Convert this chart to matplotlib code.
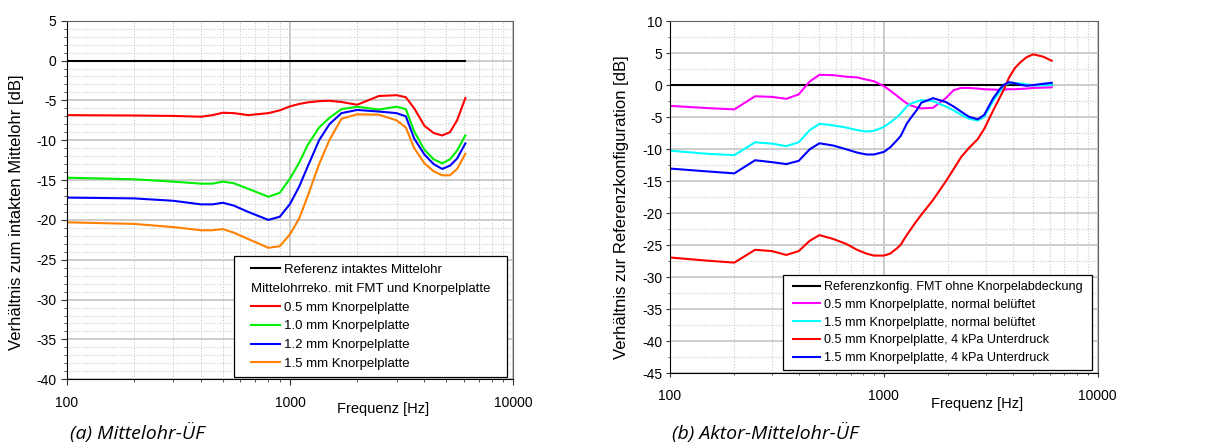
import matplotlib
matplotlib.use("Agg")
import matplotlib.pyplot as plt
from matplotlib.lines import Line2D
from matplotlib.offsetbox import DrawingArea
from matplotlib.ticker import MultipleLocator, LogLocator, NullFormatter

plt.rcParams["font.family"] = ["Liberation Sans", "DejaVu Sans"]
plt.rcParams["axes.unicode_minus"] = False

# === (a) Mittelohr-UEF data ===
freq_a = [100, 200, 300, 400, 450, 500, 560, 650, 800, 900, 1000, 1100, 1200, 1350,
          1500, 1700, 2000, 2500, 3000, 3300, 3600, 4000, 4400, 4800, 5200, 5600, 6100]
ref_a = [0.0] * len(freq_a)
k05_a = [-6.85, -6.9, -6.95, -7.05, -6.85, -6.55, -6.6, -6.85, -6.6, -6.25, -5.75, -5.45, -5.25, -5.1,
         -5.05, -5.2, -5.55, -4.45, -4.35, -4.6, -6.0, -8.2, -9.1, -9.4, -9.0, -7.5, -4.7]
k10_a = [-14.7, -14.9, -15.2, -15.45, -15.45, -15.2, -15.4, -16.1, -17.1, -16.6, -14.8, -12.8, -10.6, -8.4,
         -7.2, -6.1, -5.8, -6.15, -5.8, -6.1, -8.9, -11.2, -12.4, -12.9, -12.4, -11.3, -9.4]
k12_a = [-17.2, -17.3, -17.6, -18.05, -18.05, -17.85, -18.2, -19.0, -20.0, -19.6, -18.0, -15.8, -13.3, -10.0,
         -8.0, -6.6, -6.2, -6.4, -6.6, -7.0, -9.8, -11.8, -13.0, -13.6, -13.2, -12.3, -10.4]
k15_a = [-20.3, -20.5, -20.9, -21.3, -21.3, -21.15, -21.6, -22.4, -23.5, -23.3, -21.8, -19.8, -17.0, -13.0,
         -10.0, -7.3, -6.75, -6.8, -7.5, -8.4, -11.0, -12.9, -13.9, -14.4, -14.4, -13.6, -11.7]

# === (b) Aktor-Mittelohr-UEF data ===
freq_b = [100, 150, 200, 250, 300, 350, 400, 450, 500, 580, 670, 750, 830, 900, 1000, 1070, 1150,
          1200, 1280, 1330, 1430, 1500, 1700, 1950, 2120, 2300, 2500, 2750, 2950, 3250, 3500, 3650,
          3850, 4100, 4350, 4650, 5000, 5550, 6100]
ref_b = [0.0] * len(freq_b)
k05_norm = [-3.2, -3.55, -3.75, -1.7, -1.8, -2.1, -1.4, 0.6, 1.65, 1.6, 1.35, 1.25, 0.9, 0.65, -0.1, -0.8, -1.6,
            -2.1, -2.8, -3.1, -3.45, -3.6, -3.5, -2.0, -0.75, -0.4, -0.4, -0.5, -0.6, -0.65, -0.7, -0.65,
            -0.6, -0.6, -0.55, -0.5, -0.4, -0.35, -0.3]
k15_norm = [-10.2, -10.7, -10.9, -8.9, -9.1, -9.5, -8.9, -7.0, -6.0, -6.25, -6.6, -7.0, -7.2, -7.1, -6.5, -5.8, -5.0,
            -4.4, -3.3, -2.9, -2.5, -2.3, -2.45, -3.3, -3.9, -4.6, -5.2, -5.5, -4.9, -2.4, -0.9, -0.1,
            0.35, 0.35, 0.3, 0.15, 0.0, 0.0, 0.05]
k05_unter = [-26.9, -27.4, -27.7, -25.7, -25.9, -26.5, -25.9, -24.3, -23.4, -24.0, -24.8, -25.7, -26.3, -26.6, -26.6,
             -26.3, -25.5, -24.9, -23.4, -22.6, -21.1, -20.2, -17.9, -15.0, -13.1, -11.2, -9.8, -8.4, -6.8,
             -3.9, -1.8, -0.6, 1.2, 2.7, 3.6, 4.4, 4.85, 4.5, 3.85]
k15_unter = [-13.0, -13.45, -13.75, -11.7, -12.0, -12.3, -11.8, -10.0, -9.05, -9.4, -10.0, -10.5, -10.8, -10.8, -10.4,
             -9.7, -8.6, -7.9, -6.0, -5.2, -3.8, -2.7, -2.0, -2.6, -3.3, -4.1, -4.9, -5.3, -4.6, -2.0, -0.5,
             0.1, 0.5, 0.35, 0.1, -0.05, 0.05, 0.25, 0.4]

labels_a = ["Referenz intaktes Mittelohr", "Mittelohrreko. mit FMT und Knorpelplatte",
            "0.5 mm Knorpelplatte", "1.0 mm Knorpelplatte", "1.2 mm Knorpelplatte", "1.5 mm Knorpelplatte"]
labels_b = ["Referenzkonfig. FMT ohne Knorpelabdeckung", "0.5 mm Knorpelplatte, normal belüftet",
            "1.5 mm Knorpelplatte, normal belüftet", "0.5 mm Knorpelplatte, 4 kPa Unterdruck",
            "1.5 mm Knorpelplatte, 4 kPa Unterdruck"]

LW = 1.5
fig = plt.figure(figsize=(12.17, 4.46), dpi=100)
ax1 = fig.add_axes([0.0548, 0.1496, 0.367, 0.804])
ax2 = fig.add_axes([0.5505, 0.1630, 0.3514, 0.789])


def style_axes(ax, ymin, ymax, minor_step, ticklen, pad):
    ax.set_xscale("log")
    ax.set_xlim(100, 10000)
    ax.set_ylim(ymin, ymax)
    ax.set_xticks([100, 1000, 10000])
    ax.set_xticklabels(["100", "1000", "10000"])
    ax.xaxis.set_minor_locator(LogLocator(base=10, subs=range(2, 10)))
    ax.xaxis.set_minor_formatter(NullFormatter())
    ax.yaxis.set_major_locator(MultipleLocator(5))
    ax.yaxis.set_minor_locator(MultipleLocator(minor_step))
    ax.grid(which="major", color="#cccccc", lw=1.4, ls="-")
    ax.grid(which="minor", color="#cccccc", lw=0.8, ls=(0, (1, 1.5)))
    ax.set_axisbelow(True)
    ax.tick_params(which="major", length=ticklen, width=0.8, labelsize=10, color="#333333")
    ax.tick_params(axis="y", which="major", pad=pad)
    ax.tick_params(axis="x", which="major", pad=8)
    ax.tick_params(which="minor", length=ticklen * 0.6, width=0.6, color="#333333")
    for side in ["top", "right"]:
        ax.spines[side].set_color("#606060")
    for side in ["left", "bottom"]:
        ax.spines[side].set_color("black")


def pad_legend(leg, extra):
    # add horizontal space on both sides of the legend content
    box = leg._legend_handle_box
    kids = box.get_children()
    kids.insert(0, DrawingArea(extra, 0))
    kids.append(DrawingArea(extra, 0))


# === Plot (a) ===
ax1.plot(freq_a, ref_a, color="black", lw=LW)
ax1.plot(freq_a, k05_a, color="#ff0000", lw=LW)
ax1.plot(freq_a, k10_a, color="#00ee00", lw=LW)
ax1.plot(freq_a, k12_a, color="#0000ff", lw=LW)
ax1.plot(freq_a, k15_a, color="#ff8000", lw=LW)
style_axes(ax1, -40, 5, 1, 4, 3.5)
ax1.set_xlabel("Frequenz [Hz]", fontsize=10.5)
ax1.xaxis.set_label_coords(0.708, -0.062)
ax1.set_ylabel("Verhältnis zum intakten Mittelohr [dB]", fontsize=12)
ax1.yaxis.set_label_coords(-0.096, 0.466)

handles_a = [Line2D([], [], color="black", lw=LW), Line2D([], [], color="none", lw=LW),
             Line2D([], [], color="#ff0000", lw=LW), Line2D([], [], color="#00ee00", lw=LW),
             Line2D([], [], color="#0000ff", lw=LW), Line2D([], [], color="#ff8000", lw=LW)]
leg1 = ax1.legend(handles_a, labels_a, loc="lower right", bbox_to_anchor=(0.9866, 0.0056),
                  borderaxespad=0, fontsize=9.5, handlelength=2.2, handletextpad=0.3,
                  labelspacing=0.5, borderpad=0.55, columnspacing=0, fancybox=False,
                  framealpha=1, edgecolor="black")
leg1.get_frame().set_linewidth(0.9)
# text-only row: shift its label to the handle position
row = leg1._legend_handle_box.get_children()[0].get_children()[1]
row.get_children()[0].width = -0.3 * 9.5
pad_legend(leg1, 7)

# === Plot (b) ===
ax2.plot(freq_b, ref_b, color="black", lw=LW)
ax2.plot(freq_b, k05_norm, color="#ff00ff", lw=LW)
ax2.plot(freq_b, k15_norm, color="#00ffff", lw=LW)
ax2.plot(freq_b, k05_unter, color="#ff0000", lw=LW)
ax2.plot(freq_b, k15_unter, color="#0000ff", lw=LW)
style_axes(ax2, -45, 10, 2.5, 3, 2.5)
ax2.set_xlabel("Frequenz [Hz]", fontsize=10.5)
ax2.xaxis.set_label_coords(0.718, -0.068)
ax2.set_ylabel("Verhältnis zur Referenzkonfiguration [dB]", fontsize=12)
ax2.yaxis.set_label_coords(-0.096, 0.472)

leg2 = ax2.legend(labels_b, loc="lower right", bbox_to_anchor=(0.987, 0.0094),
                  borderaxespad=0, fontsize=9.1, handlelength=2.2, handletextpad=0.25,
                  labelspacing=0.46, borderpad=0.45, columnspacing=0, fancybox=False,
                  framealpha=1, edgecolor="black")
leg2.get_frame().set_linewidth(0.9)
pad_legend(leg2, 3)

# === Captions ===
fig.text(0.0575, 0.029, "(a) Mittelohr-ÜF", fontsize=14, style="italic",
         family=["Open Sans", "DejaVu Sans"], ha="left", va="center")
fig.text(0.552, 0.029, "(b) Aktor-Mittelohr-ÜF", fontsize=14, style="italic",
         family=["Open Sans", "DejaVu Sans"], ha="left", va="center")

fig.savefig("out.png", dpi=100)
